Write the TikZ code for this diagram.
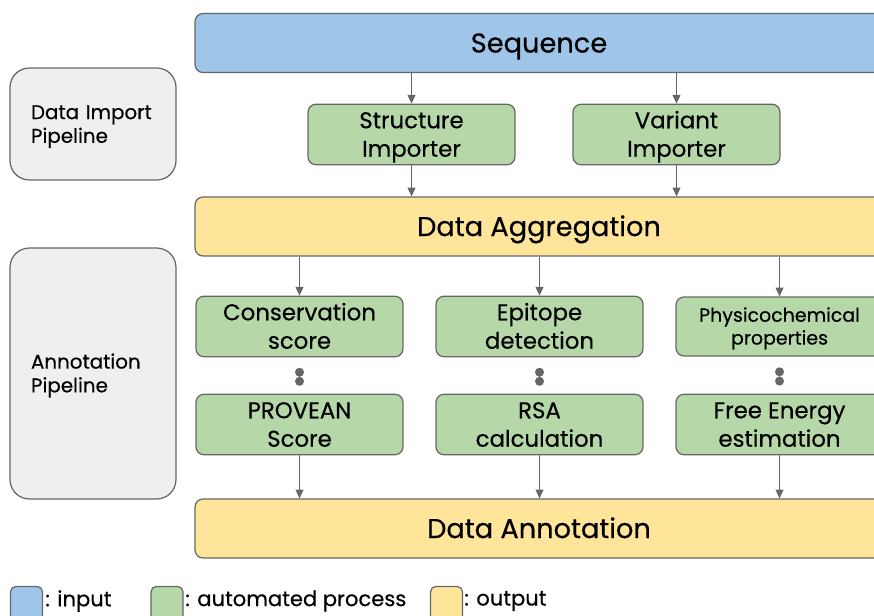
\documentclass[tikz,border=0pt]{standalone}
\usepackage{fontspec}
\setmainfont{Poppins}[FakeBold=0.4]
\usepackage{xcolor}
\usepackage{tikz}
\usetikzlibrary{shapes,arrows.meta,calc}
\definecolor{inblue}{HTML}{9FC5E8}
\definecolor{procgreen}{HTML}{B6D7A8}
\definecolor{outyellow}{HTML}{FFE599}
\definecolor{pipegray}{HTML}{EFEFEF}
\definecolor{linegray}{HTML}{666666}
\newcommand{\fbig}{\fontsize{15.5}{19}\selectfont}
\newcommand{\fmid}{\fontsize{13}{16.2}\selectfont}
\newcommand{\fsmall}{\fontsize{10.8}{13}\selectfont}
\newcommand{\fpipe}{\fontsize{11.3}{13.5}\selectfont}
\newcommand{\fleg}{\fontsize{12}{14}\selectfont}

\begin{document}
\begin{tikzpicture}[x=0.02cm,y=-0.02cm,
    linebox/.style={execute at begin node={\rule{0pt}{\dimexpr1.05em+#1\relax}},execute at end node={\rule[-0.35em]{0pt}{0pt}}},
    linebox/.default=0pt,
    box/.style={draw=linegray,line width=0.7pt,rounded corners=4.5pt,align=center,inner sep=0pt,minimum height=1.18cm},
    wide/.style={box,minimum width=13.76cm,font=\fbig,linebox},
    proc/.style={box,fill=procgreen,minimum width=4.14cm,font=\fmid,linebox=\baselineskip},
    pipe/.style={draw=linegray,line width=0.7pt,fill=pipegray,rounded corners=11pt,inner xsep=0.42cm,text width=2.48cm,align=left,font=\fpipe,linebox},
    arr/.style={draw=linegray,line width=0.7pt,-{Triangle[length=5pt,width=4.5pt]}},
    legbox/.style={draw=linegray,line width=0.7pt,rounded corners=3pt,minimum width=0.64cm,minimum height=0.7cm,inner sep=0pt},
    legtext/.style={anchor=west,inner sep=0pt,font=\fleg}]
            \useasboundingbox (0,0) rectangle (874,615);
            \clip (0,0) rectangle (874,615);
            % pipeline stages
            \node[pipe,minimum height=2.24cm] (imp) at (93,124) {Data Import\\Pipeline};
            \node[pipe,minimum height=5.02cm] (annp) at (93,373.5) {Annotation\\Pipeline};
            % input and importers
            \node[wide,fill=inblue] (seq) at (539,43) {Sequence};
            \node[proc] (str) at (411.5,134.5) {Structure\\Importer};
            \node[proc] (var) at (676.5,134.5) {Variant\\Importer};
            \node[wide,fill=outyellow] (agg) at (539,226.5) {Data Aggregation};
            % annotation steps
            \node[proc] (cons) at (299.5,326.5) {Conservation\\score};
            \node[proc] (epi) at (539.5,326.5) {Epitope\\detection};
            \node[proc,font=\fsmall] (phys) at (779.5,326.5) {Physicochemical\\properties};
            \node[proc] (prov) at (299.5,424.5) {PROVEAN\\Score};
            \node[proc] (rsa) at (539.5,424.5) {RSA\\calculation};
            \node[proc] (free) at (779.5,424.5) {Free Energy\\estimation};
            \node[wide,fill=outyellow] (ann) at (539,528.5) {Data Annotation};
            \draw[arr] (str.north |- seq.south) -- (str.north);
            \draw[arr] (var.north |- seq.south) -- (var.north);
            \draw[arr] (str.south) -- (str.south |- agg.north);
            \draw[arr] (var.south) -- (var.south |- agg.north);
            \foreach \a/\b in {cons/prov,epi/rsa,phys/free}{
                \draw[arr] (\a.north |- agg.south) -- (\a.north);
                \draw[arr] (\b.south) -- (\b.south |- ann.north);
                \fill[linegray] ($(\a.south)!0.41!(\b.north)$) circle (4.5) ($(\a.south)!0.66!(\b.north)$) circle (4.5);
            }
            % legend
            \node[legbox,fill=inblue] (lin) at (26.5,604) {};
            \node[legtext] (tin) at (45,601) {: input};
            \node[legbox,fill=procgreen] (lproc) at (167,604) {};
            \node[legtext] (tproc) at (185,601) {: automated process};
            \node[legbox,fill=outyellow] (lout) at (446.5,604) {};
            \node[legtext] (tout) at (464,601) {: output};
        \end{tikzpicture}
\end{document}
